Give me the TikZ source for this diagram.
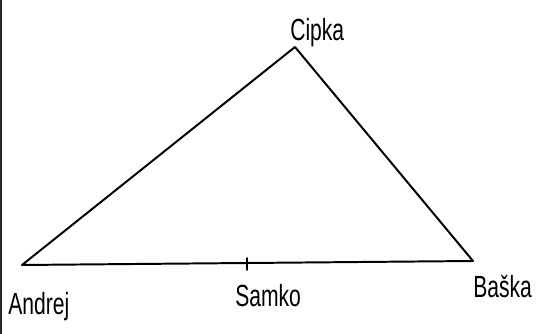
\documentclass[tikz,border=0pt]{standalone}
\usepackage{fontspec}
\setmainfont{Liberation Sans}
\tikzset{
  side/.style={line width=1.4pt, line cap=round, line join=round},
  persontext/.style={font=\fontsize{15}{18}\selectfont, inner sep=0pt, anchor=base west, yscale=1.45, transform shape}
}
\begin{document}
\begin{tikzpicture}[x=0.025cm, y=-0.025cm]
\useasboundingbox (0,0) rectangle (541,334);
\fill[black!85] (0,0) rectangle (2.5,334);
\coordinate (andrej) at (22,265);
\coordinate (cipka) at (295,47);
\coordinate (baska) at (473,261);
\coordinate (samko) at (247,264);
\draw[side] (andrej) -- (cipka) -- (baska) -- cycle;
\draw[side] (samko) ++(0,-6) -- ++(0,12);
\node[persontext] (andrejlabel) at (8,315) {Andrej};
\node[persontext] (cipkalabel) at (290,41) {Cipka};
\node[persontext] (samkolabel) at (235,307) {Samko};
\node[persontext] (baskalabel) at (473,298) {Baška};
\end{tikzpicture}
\end{document}
